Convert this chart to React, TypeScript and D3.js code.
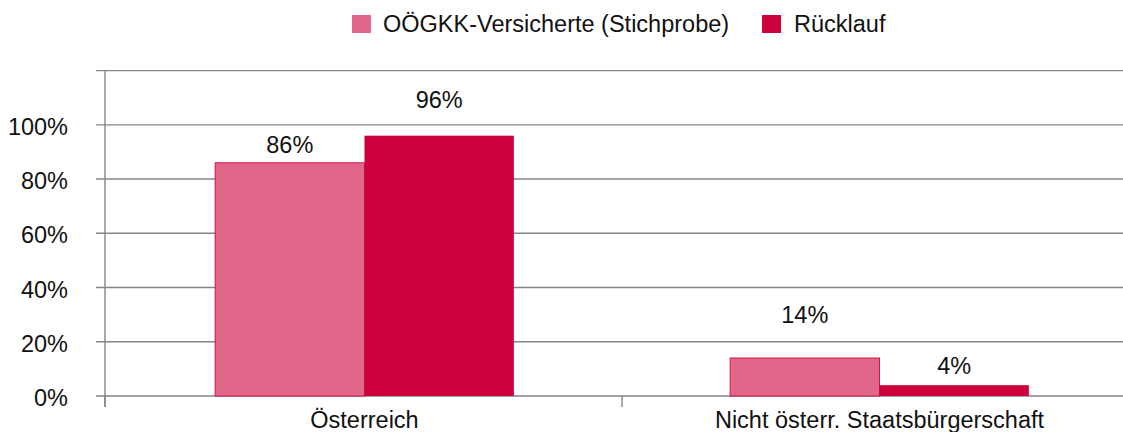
import React from 'react';
import * as d3 from 'd3';

const categories = ['Österreich', 'Nicht österr. Staatsbürgerschaft'];
const seriesNames = ['OÖGKK-Versicherte (Stichprobe)', 'Rücklauf'];
const stichprobe = [0.86, 0.14];
const ruecklauf = [0.96, 0.04];
const yTicks = [0, 0.2, 0.4, 0.6, 0.8, 1.0];
// label distance above bar top, as in the original chart
const labelGap = [
  [10, 28],
  [35, 11],
];

const colors = ['#E1678A', '#CC003B'];
const W = 1123;
const H = 432;
const left = 105;
const fs = 23.5;
const font = '"Liberation Sans", Arial, sans-serif';

const App = () => {
  const y = d3.scaleLinear().domain([0, 1.2]).range([396, 70.6]);
  const x0 = d3.scaleBand<string>().domain(categories).range([107, 1137]).padding(0);
  const bw = x0.bandwidth();
  const x1 = d3
    .scaleBand<string>()
    .domain(seriesNames)
    .range([bw * 0.21, bw * 0.79])
    .padding(0);

  const values = [stichprobe, ruecklauf];
  const fmt = d3.format('.0%');

  const gridLines = [...yTicks, 1.2];
  const dividers = [0, 1, 2].map((i) => x0.range()[0] + i * bw);

  return (
    <svg
      width={W}
      height={H}
      style={{ position: 'absolute', left: 0, top: 0, display: 'block', background: '#fff' }}
      fontFamily={font}
    >
      {/* legend */}
      <g>
        <rect x={352} y={15} width={19} height={18} fill={colors[0]} />
        <text x={383} y={32} fontSize={fs} fill="#111">
          {seriesNames[0]}
        </text>
        <rect x={762} y={15} width={19} height={18} fill={colors[1]} />
        <text x={794} y={32} fontSize={fs} fill="#111">
          {seriesNames[1]}
        </text>
      </g>

      {/* grid */}
      {gridLines.map((t) => (
        <line key={t} x1={96} x2={W} y1={y(t)} y2={y(t)} stroke="#858585" strokeWidth={1.4} />
      ))}
      <line x1={left} x2={left} y1={y(1.2)} y2={407} stroke="#858585" strokeWidth={1.4} />
      {dividers.map((d, i) => (
        <line key={i} x1={i === 0 ? left : d} x2={i === 0 ? left : d} y1={y(0)} y2={407} stroke="#858585" strokeWidth={1.4} />
      ))}

      {yTicks.map((t) => (
        <text key={t} x={68} y={y(t) + 10} textAnchor="end" fontSize={fs} fill="#111">
          {fmt(t)}
        </text>
      ))}

      {/* bars */}
      {categories.map((c, ci) => (
        <g key={c} transform={`translate(${x0(c)},0)`}>
          {seriesNames.map((s, si) => {
            const v = values[si][ci];
            const bx = x1(s)!;
            return (
              <g key={s}>
                <rect
                  x={bx}
                  y={y(v)}
                  width={x1.bandwidth()}
                  height={y(0) - y(v)}
                  fill={colors[si]}
                  stroke={si === 0 ? '#D4104A' : 'none'}
                  strokeWidth={1}
                />
                <text
                  x={bx + x1.bandwidth() / 2}
                  y={y(v) - labelGap[ci][si]}
                  textAnchor="middle"
                  fontSize={fs}
                  fill="#111"
                >
                  {fmt(v)}
                </text>
              </g>
            );
          })}
          <text x={bw / 2} y={428} textAnchor="middle" fontSize={fs} fill="#111">
            {c}
          </text>
        </g>
      ))}
    </svg>
  );
};

export default App;
